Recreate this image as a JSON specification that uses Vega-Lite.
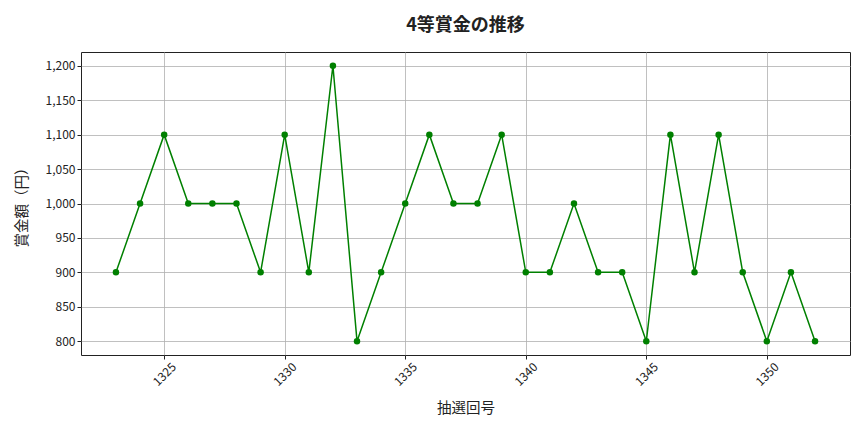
{
  "$schema": "https://vega.github.io/schema/vega-lite/v6.json",
  "autosize": {"type": "none"},
  "padding": {"left": 81, "top": 52, "right": 14, "bottom": 77},
  "width": 769,
  "height": 303,
  "background": "white",
  "config": {
    "font": "Noto Sans CJK JP",
    "view": {"stroke": "#222222", "strokeWidth": 1},
    "axis": {"grid": true, "gridColor": "#b0b0b0", "gridWidth": 0.8, "domain": false, "tickColor": "#222", "tickSize": 4, "labelColor": "#222", "labelFontSize": 12, "titleFontSize": 14.5, "titleColor": "#222", "titleFontWeight": "normal"}
  },
  "title": {"text": "4等賞金の推移", "fontSize": 18, "fontWeight": "bold", "color": "#222", "offset": 17},
  "data": {"values": [
    {"draw": 1323, "prize": 900}, {"draw": 1324, "prize": 1000}, {"draw": 1325, "prize": 1100},
    {"draw": 1326, "prize": 1000}, {"draw": 1327, "prize": 1000}, {"draw": 1328, "prize": 1000},
    {"draw": 1329, "prize": 900}, {"draw": 1330, "prize": 1100}, {"draw": 1331, "prize": 900},
    {"draw": 1332, "prize": 1200}, {"draw": 1333, "prize": 800}, {"draw": 1334, "prize": 900},
    {"draw": 1335, "prize": 1000}, {"draw": 1336, "prize": 1100}, {"draw": 1337, "prize": 1000},
    {"draw": 1338, "prize": 1000}, {"draw": 1339, "prize": 1100}, {"draw": 1340, "prize": 900},
    {"draw": 1341, "prize": 900}, {"draw": 1342, "prize": 1000}, {"draw": 1343, "prize": 900},
    {"draw": 1344, "prize": 900}, {"draw": 1345, "prize": 800}, {"draw": 1346, "prize": 1100},
    {"draw": 1347, "prize": 900}, {"draw": 1348, "prize": 1100}, {"draw": 1349, "prize": 900},
    {"draw": 1350, "prize": 800}, {"draw": 1351, "prize": 900}, {"draw": 1352, "prize": 800}
  ]},
  "mark": {"type": "line", "color": "green", "strokeWidth": 1.5, "point": {"color": "green", "size": 42, "filled": true, "opacity": 1}},
  "encoding": {
    "x": {"field": "draw", "type": "quantitative", "title": "抽選回号",
          "scale": {"domain": [1321.55, 1353.45], "nice": false, "zero": false},
          "axis": {"values": [1325, 1330, 1335, 1340, 1345, 1350], "labelAngle": -45, "labelAlign": "center", "labelBaseline": "middle", "labelPadding": 15, "titlePadding": 14, "format": "d"}},
    "y": {"field": "prize", "type": "quantitative", "title": "賞金額（円）",
          "scale": {"domain": [780, 1220], "nice": false, "zero": false},
          "axis": {"values": [800, 850, 900, 950, 1000, 1050, 1100, 1150, 1200], "format": ",.0f", "titlePadding": 16}}
  }
}
